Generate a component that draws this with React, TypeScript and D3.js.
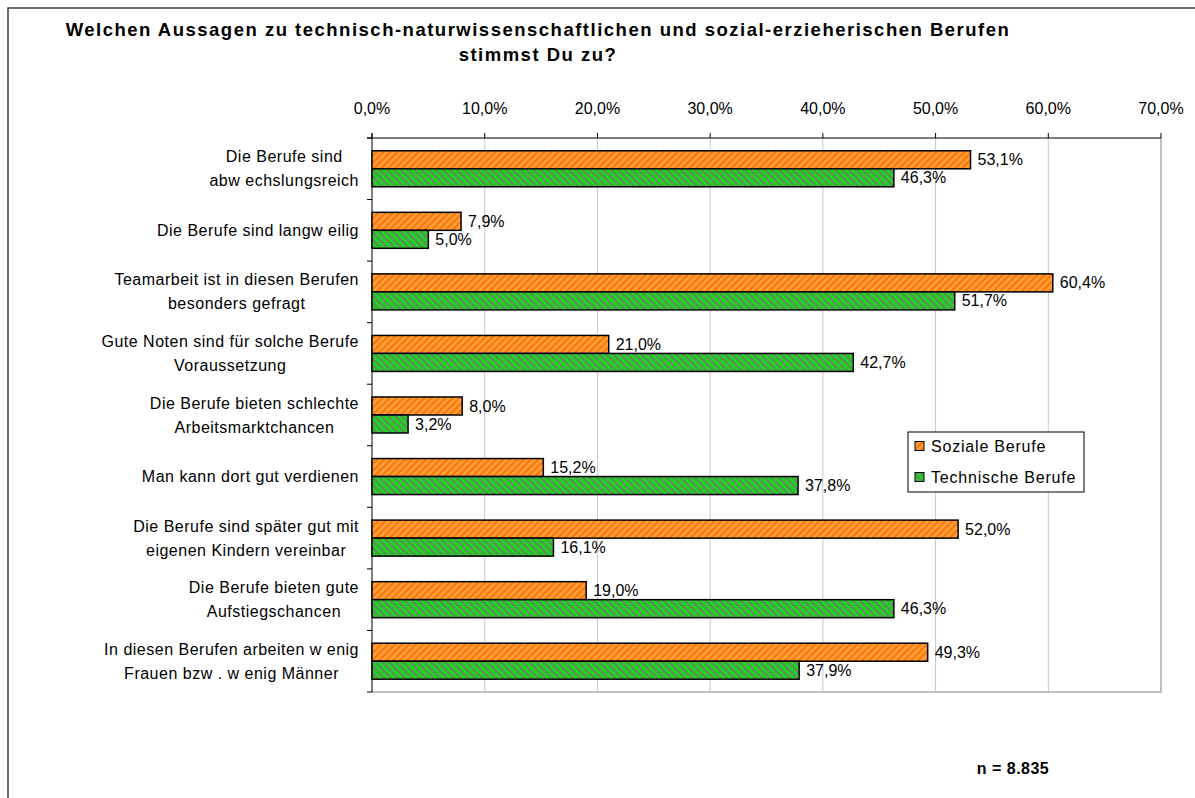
import * as d3 from 'd3';
import { useEffect, useRef } from 'react';

const categories: string[][] = [
  ['Die Berufe sind', 'abw echslungsreich'],
  ['Die Berufe sind langw eilig'],
  ['Teamarbeit ist in diesen Berufen', 'besonders gefragt'],
  ['Gute Noten sind für solche Berufe', 'Voraussetzung'],
  ['Die Berufe bieten schlechte', 'Arbeitsmarktchancen'],
  ['Man kann dort gut verdienen'],
  ['Die Berufe sind später gut mit', 'eigenen Kindern vereinbar'],
  ['Die Berufe bieten gute', 'Aufstiegschancen'],
  ['In diesen Berufen arbeiten w enig', 'Frauen bzw . w enig Männer'],
];

const sozialeValues = [53.1, 7.9, 60.4, 21.0, 8.0, 15.2, 52.0, 19.0, 49.3];
const technischeValues = [46.3, 5.0, 51.7, 42.7, 3.2, 37.8, 16.1, 46.3, 37.9];

const seriesNames = ['Soziale Berufe', 'Technische Berufe'];
const xTicks = [0, 10, 20, 30, 40, 50, 60, 70];

const titleLines = [
  'Welchen Aussagen zu technisch-naturwissenschaftlichen und sozial-erzieherischen Berufen',
  'stimmst Du zu?',
];
const footnote = 'n = 8.835';

const WIDTH = 1195;
const HEIGHT = 798;
const FONT = '"Liberation Sans", Arial, sans-serif';

const fmt = (v: number) => `${v.toFixed(1).replace('.', ',')}%`;

export default function App() {
  const svgRef = useRef<SVGSVGElement | null>(null);

  useEffect(() => {
    if (!svgRef.current) return;
    const svg = d3.select(svgRef.current);
    svg.selectAll('*').remove();

    const plot = { left: 372, right: 1161, top: 138, bottom: 692 };

    const x = d3.scaleLinear().domain([0, 70]).range([plot.left, plot.right]);
    const y = d3
      .scaleBand<number>()
      .domain(categories.map((_, i) => i))
      .range([plot.top, plot.bottom])
      .padding(0);
    const barH = 18;

    // hatch patterns (Excel style wide diagonals)
    const defs = svg.append('defs');
    const makePattern = (id: string, base: string, stripe: string, dir: 1 | -1) => {
      const p = defs
        .append('pattern')
        .attr('id', id)
        .attr('patternUnits', 'userSpaceOnUse')
        .attr('width', 7)
        .attr('height', 7);
      p.append('rect').attr('width', 7).attr('height', 7).attr('fill', base);
      const d =
        dir === 1
          ? 'M-2,2 l4,-4 M0,7 l7,-7 M5,9 l4,-4'
          : 'M-2,5 l4,4 M0,0 l7,7 M5,-2 l4,4';
      p.append('path').attr('d', d).attr('stroke', stripe).attr('stroke-width', 2.8);
    };
    makePattern('hatchOrange', '#ff7600', '#ffa040', 1);
    makePattern('hatchGreen', '#12e012', '#589458', -1);
    const fills = ['url(#hatchOrange)', 'url(#hatchGreen)'];

    // outer frame
    svg
      .append('path')
      .attr('d', `M8,${HEIGHT + 2} L8,8 L${WIDTH + 2},8`)
      .attr('fill', 'none')
      .attr('stroke', '#3c3c3c')
      .attr('stroke-width', 1.5);

    // title
    svg
      .append('g')
      .selectAll('text')
      .data(titleLines)
      .join('text')
      .attr('x', 538)
      .attr('y', (_, i) => 36 + i * 25)
      .attr('text-anchor', 'middle')
      .attr('font-family', FONT)
      .attr('font-weight', 'bold')
      .attr('font-size', 18.5)
      .attr('letter-spacing', 1.5)
      .attr('fill', '#000')
      .text((d) => d);

    // gridlines
    svg
      .append('g')
      .selectAll('line')
      .data(xTicks.slice(1))
      .join('line')
      .attr('x1', (d) => x(d))
      .attr('x2', (d) => x(d))
      .attr('y1', plot.top)
      .attr('y2', plot.bottom)
      .attr('stroke', '#c8c8c8')
      .attr('stroke-width', 1);

    // plot border (right, bottom)
    svg
      .append('path')
      .attr('d', `M${plot.left},${plot.bottom} L${plot.right},${plot.bottom} L${plot.right},${plot.top}`)
      .attr('fill', 'none')
      .attr('stroke', '#c0c0c0')
      .attr('stroke-width', 2);

    // top axis
    const axisG = svg.append('g').attr('stroke', '#000').attr('stroke-width', 1);
    axisG
      .append('line')
      .attr('x1', plot.left - 5)
      .attr('x2', plot.right)
      .attr('y1', plot.top)
      .attr('y2', plot.top);
    axisG
      .selectAll('line.tick')
      .data(xTicks)
      .join('line')
      .attr('class', 'tick')
      .attr('x1', (d) => x(d))
      .attr('x2', (d) => x(d))
      .attr('y1', plot.top - 5)
      .attr('y2', plot.top);

    svg
      .append('g')
      .selectAll('text')
      .data(xTicks)
      .join('text')
      .attr('x', (d) => x(d))
      .attr('y', 114)
      .attr('text-anchor', 'middle')
      .attr('font-family', FONT)
      .attr('font-size', 16)
      .attr('fill', '#000')
      .text((d) => fmt(d));

    // left axis
    axisG
      .append('line')
      .attr('x1', plot.left)
      .attr('x2', plot.left)
      .attr('y1', plot.top - 5)
      .attr('y2', plot.bottom);
    const boundaries = d3.range(categories.length + 1).map((i) => plot.top + i * y.bandwidth());
    axisG
      .selectAll('line.ytick')
      .data(boundaries)
      .join('line')
      .attr('class', 'ytick')
      .attr('x1', plot.left - 5)
      .attr('x2', plot.left)
      .attr('y1', (d) => d)
      .attr('y2', (d) => d);

    // category labels, centred within a right-aligned block
    const labelRight = 359;
    const lineGap = 24;
    categories.forEach((lines, i) => {
      const cy = (y(i) ?? 0) + y.bandwidth() / 2;
      const g = svg.append('g');
      const texts = g
        .selectAll('text')
        .data(lines)
        .join('text')
        .attr('y', (_, j) => cy + (j - (lines.length - 1) / 2) * lineGap)
        .attr('dy', '0.35em')
        .attr('text-anchor', 'middle')
        .attr('font-family', FONT)
        .attr('font-size', 16)
        .attr('letter-spacing', 0.5)
        .attr('fill', '#000')
        .text((d) => d);
      let maxW = 0;
      texts.each(function measure() {
        maxW = Math.max(maxW, (this as SVGTextElement).getComputedTextLength());
      });
      texts.attr('x', labelRight - maxW / 2);
    });

    // bars
    const series = [sozialeValues, technischeValues];
    series.forEach((values, s) => {
      const g = svg.append('g');
      g.selectAll('rect')
        .data(values)
        .join('rect')
        .attr('x', x(0))
        .attr('y', (_, i) => (y(i) ?? 0) + y.bandwidth() / 2 - barH + s * barH)
        .attr('width', (d) => x(d) - x(0))
        .attr('height', barH)
        .attr('fill', fills[s])
        .attr('stroke', '#000')
        .attr('stroke-width', 1.5);
      g.selectAll('text')
        .data(values)
        .join('text')
        .attr('x', (d) => x(d) + 7)
        .attr('y', (_, i) => (y(i) ?? 0) + y.bandwidth() / 2 - barH / 2 + s * barH)
        .attr('dy', '0.35em')
        .attr('font-family', FONT)
        .attr('font-size', 16)
        .attr('fill', '#000')
        .text((d) => fmt(d));
    });

    // legend
    const legend = svg.append('g').attr('transform', 'translate(908,432)');
    legend
      .append('rect')
      .attr('width', 176)
      .attr('height', 60)
      .attr('fill', '#fff')
      .attr('stroke', '#000')
      .attr('stroke-width', 1);
    seriesNames.forEach((name, s) => {
      const cy = 14 + s * 31;
      legend
        .append('rect')
        .attr('x', 7)
        .attr('y', cy - 4.5)
        .attr('width', 9)
        .attr('height', 9)
        .attr('fill', fills[s])
        .attr('stroke', '#000')
        .attr('stroke-width', 1);
      legend
        .append('text')
        .attr('x', 23)
        .attr('y', cy)
        .attr('dy', '0.35em')
        .attr('font-family', FONT)
        .attr('font-size', 16)
        .attr('letter-spacing', 0.8)
        .attr('fill', '#000')
        .text(name);
    });

    // footnote
    svg
      .append('text')
      .attr('x', 1013)
      .attr('y', 768)
      .attr('dy', '0.35em')
      .attr('text-anchor', 'middle')
      .attr('font-family', FONT)
      .attr('font-weight', 'bold')
      .attr('font-size', 16)
      .attr('letter-spacing', 0.5)
      .attr('fill', '#000')
      .text(footnote);
  }, []);

  return (
    <svg
      ref={svgRef}
      width={WIDTH}
      height={HEIGHT}
      style={{ position: 'absolute', left: 0, top: 0, background: '#fff' }}
    />
  );
}
